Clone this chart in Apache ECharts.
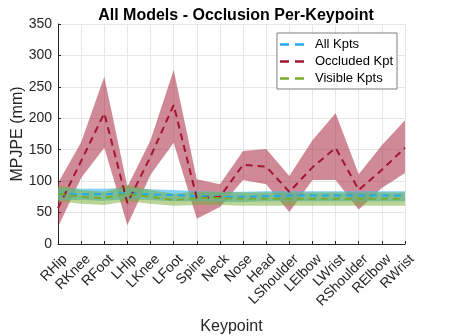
<!DOCTYPE html>
<html>
<head>
<meta charset="utf-8">
<script src="https://cdn.jsdelivr.net/npm/echarts@6/dist/echarts.min.js"></script>
<style>
  html, body { margin: 0; padding: 0; background: #fff; }
  #chart { width: 449px; height: 336px; }
</style>
</head>
<body>
<div id="chart"></div>
<script>
const keypoints = ["RHip", "RKnee", "RFoot", "LHip", "LKnee", "LFoot", "Spine", "Neck",
  "Nose", "Head", "LShoulder", "LElbow", "LWrist", "RShoulder", "RElbow", "RWrist"];

// mean values
const allMean = [79, 79, 79, 81, 79, 78, 76, 75, 75, 76, 77, 77, 77, 77, 77, 77];
const occMean = [57, 132, 208, 65, 139, 221, 73, 75, 126, 123, 83, 122, 153, 86, 118, 153];
const visMean = [80, 75, 73, 80, 75, 70, 73, 73, 72, 72, 72, 72, 72, 72, 72, 72];

// shaded band bounds
const allLow = [70, 70, 69, 71, 70, 68, 68, 67, 67, 68, 68, 68, 68, 68, 68, 68];
const allHigh = [89, 88, 88, 89, 87, 86, 84, 83, 83, 84, 84, 84, 84, 84, 84, 84];
const occLow = [27, 105, 153, 30, 110, 161, 40, 59, 102, 95, 51, 102, 102, 55, 89, 113];
const occHigh = [97, 162, 266, 91, 165, 277, 103, 95, 148, 151, 108, 165, 208, 111, 157, 197];
const visLow = [68, 64, 62, 68, 64, 61, 62, 62, 61, 61, 61, 61, 61, 61, 61, 61];
const visHigh = [93, 86, 83, 94, 86, 80, 83, 83, 82, 82, 82, 82, 82, 82, 82, 82];

const chart = echarts.init(document.getElementById("chart"));

// two short dashes for the legend
const dashIcon = "path://M0,0 L9,0 L9,2.4 L0,2.4 Z M15,0 L24,0 L24,2.4 L15,2.4 Z";

function band(id, low, high, color) {
  return [
    {
      name: id + "_low", type: "line", stack: id, data: low, symbol: "none",
      lineStyle: { opacity: 0 }, silent: true
    },
    {
      name: id + "_band", type: "line", stack: id,
      data: high.map((h, i) => h - low[i]), symbol: "none",
      lineStyle: { opacity: 0 }, areaStyle: { color: color, opacity: 1 }, silent: true
    }
  ];
}

function meanLine(name, data, color) {
  return {
    name: name, type: "line", data: data, symbol: "none",
    lineStyle: { color: color, width: 2, type: [7, 5] },
    itemStyle: { color: color }, z: 5
  };
}

chart.setOption({
  animation: false,
  title: {
    text: "All Models - Occlusion Per-Keypoint",
    left: 231, top: 3, textAlign: "center",
    textStyle: { fontFamily: "Liberation Sans", fontSize: 16, fontWeight: "bold", color: "#000" }
  },
  legend: {
    data: [
      { name: "All Kpts", icon: dashIcon },
      { name: "Occluded Kpt", icon: dashIcon },
      { name: "Visible Kpts", icon: dashIcon }
    ],
    orient: "vertical", right: 52, top: 33,
    backgroundColor: "#fff", borderColor: "#7f7f7f", borderWidth: 1,
    borderRadius: 0, padding: [5, 4, 4, 3], itemGap: 4,
    itemWidth: 24, itemHeight: 2.4,
    textStyle: { fontFamily: "Liberation Sans", fontSize: 13, color: "#000", padding: [0, 0, 0, 6] }
  },
  grid: { left: 58, right: 44, top: 24, bottom: 92, outerBoundsMode: "none" },
  xAxis: {
    type: "category", data: keypoints, boundaryGap: false,
    name: "Keypoint", nameLocation: "middle", nameGap: 75,
    nameTextStyle: { fontFamily: "Liberation Sans", fontSize: 16, color: "#262626" },
    axisLine: { lineStyle: { color: "#262626" } },
    axisTick: { inside: true, length: 3, lineStyle: { color: "#262626" } },
    axisLabel: {
      rotate: 45, interval: 0, fontFamily: "Liberation Sans", fontSize: 14, color: "#262626",
      margin: 20, padding: [0, -10, 0, 0]
    },
    splitLine: { show: true, lineStyle: { color: "#e6e6e6" } }
  },
  yAxis: {
    type: "value", min: 0, max: 350, interval: 50,
    name: "MPJPE (mm)", nameLocation: "middle", nameGap: 32, nameMoveOverlap: false,
    nameTextStyle: { fontFamily: "Liberation Sans", fontSize: 16, color: "#262626" },
    axisLine: { show: true, lineStyle: { color: "#262626" } },
    axisTick: { show: true, inside: true, length: 3, lineStyle: { color: "#262626" } },
    axisLabel: { fontFamily: "Liberation Sans", fontSize: 14, color: "#262626", margin: 6 },
    splitLine: { show: true, lineStyle: { color: "#e6e6e6" } }
  },
  series: [
    ...band("occ", occLow, occHigh, "rgba(162,20,47,0.5)"),
    ...band("all", allLow, allHigh, "rgba(77,190,238,0.7)"),
    ...band("vis", visLow, visHigh, "rgba(119,172,48,0.5)"),
    meanLine("All Kpts", allMean, "#22a7f0"),
    meanLine("Occluded Kpt", occMean, "#a2142f"),
    meanLine("Visible Kpts", visMean, "#77ac30")
  ]
});
</script>
</body>
</html>
